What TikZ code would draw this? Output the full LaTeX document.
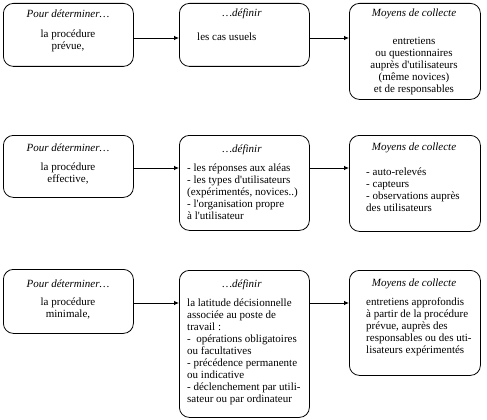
\documentclass[tikz,border=0pt]{standalone}
\usepackage{fontspec}
\setmainfont{Liberation Serif}
\usetikzlibrary{arrows.meta}
\newcommand{\q}{\textquotesingle}
\begin{document}
\begin{tikzpicture}[x=1pt,y=1pt,
  box/.style={draw, line width=0.8pt, rounded corners=10pt, anchor=north west, inner sep=0pt},
  hd/.style={font=\fontsize{11}{12}\selectfont\itshape, inner sep=0pt},
  bodyc/.style={font=\fontsize{11}{12}\selectfont, align=center, anchor=north, inner sep=0pt},
  bodyl/.style={font=\fontsize{11}{12}\selectfont, align=left, anchor=north west, inner sep=0pt},
  arr/.style={line width=0.8pt, -{Latex[length=5pt,width=4.5pt]}}]
\useasboundingbox (0,0) rectangle (487,-420);
% row 1
\node[box, minimum width=130pt, minimum height=63pt] (A1) at (3,-3) {};
\node[box, minimum width=130pt, minimum height=63pt] (B1) at (179,-3) {};
\node[box, minimum width=131pt, minimum height=96pt] (C1) at (349,-3) {};
% row 2
\node[box, minimum width=130pt, minimum height=62pt] (A2) at (3,-135) {};
\node[box, minimum width=130pt, minimum height=95pt] (B2) at (179,-135) {};
\node[box, minimum width=131pt, minimum height=96pt] (C2) at (349,-135) {};
% row 3
\node[box, minimum width=130pt, minimum height=64pt] (A3) at (3,-269) {};
\node[box, minimum width=130pt, minimum height=147pt] (B3) at (179,-270) {};
\node[box, minimum width=131pt, minimum height=105pt] (C3) at (349,-270) {};
% headings
\node[hd] (A1h) at (68,-14) {Pour déterminer\dots};
\node[hd] (B1h) at (242,-14) {\dots définir};
\node[hd] (C1h) at (414,-14) {Moyens de collecte};
\node[hd] (A2h) at (68,-148) {Pour déterminer\dots};
\node[hd] (B2h) at (242,-150) {\dots définir};
\node[hd] (C2h) at (414,-148) {Moyens de collecte};
\node[hd] (A3h) at (68,-284) {Pour déterminer\dots};
\node[hd] (B3h) at (242,-285) {\dots définir};
\node[hd] (C3h) at (414,-284) {Moyens de collecte};
% bodies
\node[bodyc] (A1t) at (68,-30) {la procédure\\prévue,};
\node[bodyl] (B1t) at (197,-33) {les cas usuels};
\node[bodyc] (C1t) at (414,-37) {entretiens\\ou questionnaires\\auprès d\q utilisateurs\\(même novices)\\et de responsables};
\node[bodyc] (A2t) at (68,-163) {la procédure\\effective,};
\node[bodyl] (B2t) at (187,-164) {- les réponses aux aléas\\- les types d\q utilisateurs\\(expérimentés, novices..)\\- l\q organisation propre\\à l\q utilisateur};
\node[bodyl] (C2t) at (366,-168) {- auto-relevés\\- capteurs\\- observations auprès\\des utilisateurs};
\node[bodyc] (A3t) at (68,-298) {la procédure\\minimale,};
\node[bodyl] (B3t) at (187,-299) {la latitude décisionnelle\\associée au poste de\\travail :\\-\ \ opérations obligatoires\\ou facultatives\\- précédence permanente\\ou indicative\\- déclenchement par utili-\\sateur ou par ordinateur};
\node[bodyl] (C3t) at (366,-298) {entretiens approfondis\\à partir de la procédure\\prévue, auprès des\\responsables ou des uti-\\lisateurs expérimentés};
% connectors
\coordinate (r1) at (0,-38);
\coordinate (r2) at (0,-168);
\coordinate (r3) at (0,-303);
\draw[arr] (A1.east |- r1) -- (B1.west |- r1);
\draw[arr] (B1.east |- r1) -- (C1.west |- r1);
\draw[arr] (A2.east |- r2) -- (B2.west |- r2);
\draw[arr] (B2.east |- r2) -- (C2.west |- r2);
\draw[arr] (A3.east |- r3) -- (B3.west |- r3);
\draw[arr] (B3.east |- r3) -- (C3.west |- r3);
\end{tikzpicture}
\end{document}
